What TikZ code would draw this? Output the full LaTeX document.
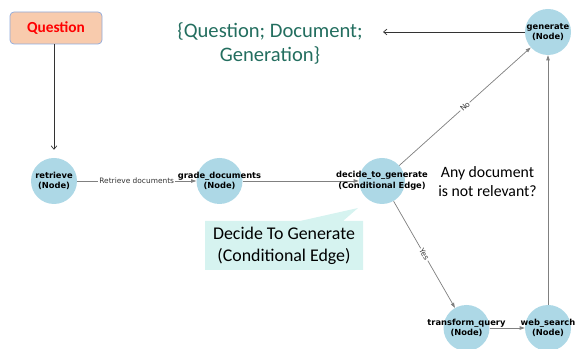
\documentclass[tikz,border=0pt]{standalone}
\usepackage{fontspec}
\setmainfont{Carlito}
\newfontfamily\dejavu{DejaVu Sans}
\usetikzlibrary{arrows.meta}

\begin{document}
\begin{tikzpicture}[
    vertex/.style={circle, fill=r173g216b230, minimum size=1.610000cm, inner sep=0pt},
    vertexlabel/.style={font=\dejavu\bfseries\fontsize{8.3}{10.5}\selectfont, align=center, inner sep=0pt},
    graphedge/.style={draw=r128g128b128, line width=0.025cm, -{Triangle[length=0.180000cm,width=0.120000cm]}},
    edgelabel/.style={font=\dejavu\fontsize{7.4}{9}\selectfont, fill=white, inner sep=1pt, text=black!80},
    plainarrow/.style={draw=black!80, line width=0.025cm, -{Straight Barb[length=0.120000cm,width=0.200000cm]}}
  ]
                        \useasboundingbox (0,0) rectangle (20.125000,12.215000);

                        % Changing colors
                        \definecolor{r173g216b230}{RGB}{173,216,230}%
                        \definecolor{r128g128b128}{RGB}{128,128,128}%
                        \definecolor{r248g203b173}{RGB}{248,203,173}%
                        \definecolor{r143g170b220}{RGB}{143,170,220}%
                        \definecolor{r35g110b95}{RGB}{35,110,95}%
                        \definecolor{r214g243b240}{RGB}{214,243,240}%

                        % Marking box Question
                        \node [draw=r143g170b220, line width=0.025cm, fill=r248g203b173, rounded corners=0.140000cm,
                               minimum width=3.220000cm, minimum height=1.120000cm,
                               font=\bfseries\fontsize{15.3}{18}\selectfont, text=red] (question) at (1.960000,11.235000) {Question};%

                        % Marking graph nodes by circles
                        \node [vertex] (retrieve) at (1.890000,5.880000) {};%
                        \node [vertex] (grade) at (7.682500,5.880000) {};%
                        \node [vertex] (decide) at (13.370000,5.880000) {};%
                        \node [vertex] (generate) at (19.180000,11.095000) {};%
                        \node [vertex] (transform) at (16.327500,0.735000) {};%
                        \node [vertex] (websearch) at (19.180000,0.735000) {};%

                        % Drawing line Question retrieve
                        \draw [plainarrow, shorten >=0.280000cm] (retrieve |- question.south) -- (retrieve);%

                        % Drawing graph edges
                        \draw [graphedge] (retrieve) -- node [edgelabel] (retrievelabel) {Retrieve documents} (grade);%
                        \draw [graphedge] (grade) -- (decide);%
                        \draw [graphedge] (decide) -- node [edgelabel, sloped] (nolabel) {No} (generate);%
                        \draw [graphedge] (decide) -- node [edgelabel, sloped] (yeslabel) {Yes} (transform);%
                        \draw [graphedge] (transform) -- (websearch);%
                        \draw [graphedge] (websearch) -- (generate);%

                        % Marking node texts
                        \node [vertexlabel] (retrievetext) at (retrieve) {retrieve\\(Node)};%
                        \node [vertexlabel] (gradetext) at (grade) {grade\_documents\\(Node)};%
                        \node [vertexlabel] (decidetext) at (decide) {decide\_to\_generate\\(Conditional Edge)};%
                        \node [vertexlabel] (generatetext) at (generate) {generate\\(Node)};%
                        \node [vertexlabel] (transformtext) at (transform) {transform\_query\\(Node)};%
                        \node [vertexlabel] (websearchtext) at (websearch) {web\_search\\(Node)};%

                        % Marking state text
                        \node [align=center, text=r35g110b95, font=\fontsize{20.5}{24}\selectfont] (state) at (9.450000,10.692500) {\{Question; Document;\\Generation\}};%
                        \coordinate (stateend) at (13.405000,11.095000);%
                        \draw [plainarrow] (generate) -- (stateend);%

                        % Marking question text
                        \node [align=center, font=\fontsize{15.7}{19}\selectfont] (relevant) at (17.062500,5.845000) {Any document\\is not relevant?};%

                        % Drawing callout
                        \fill [r214g243b240] (7.175000,2.765000) -- (7.175000,4.480000) -- (10.500000,4.480000) -- (12.530000,4.935000)
                              -- (12.005000,4.480000) -- (12.705000,4.480000) -- (12.705000,2.765000) -- cycle;%
                        \node [align=center, font=\fontsize{17.8}{22}\selectfont] (callout) at (9.940000,3.622500) {Decide To Generate\\(Conditional Edge)};%
                    \end{tikzpicture}
\end{document}
